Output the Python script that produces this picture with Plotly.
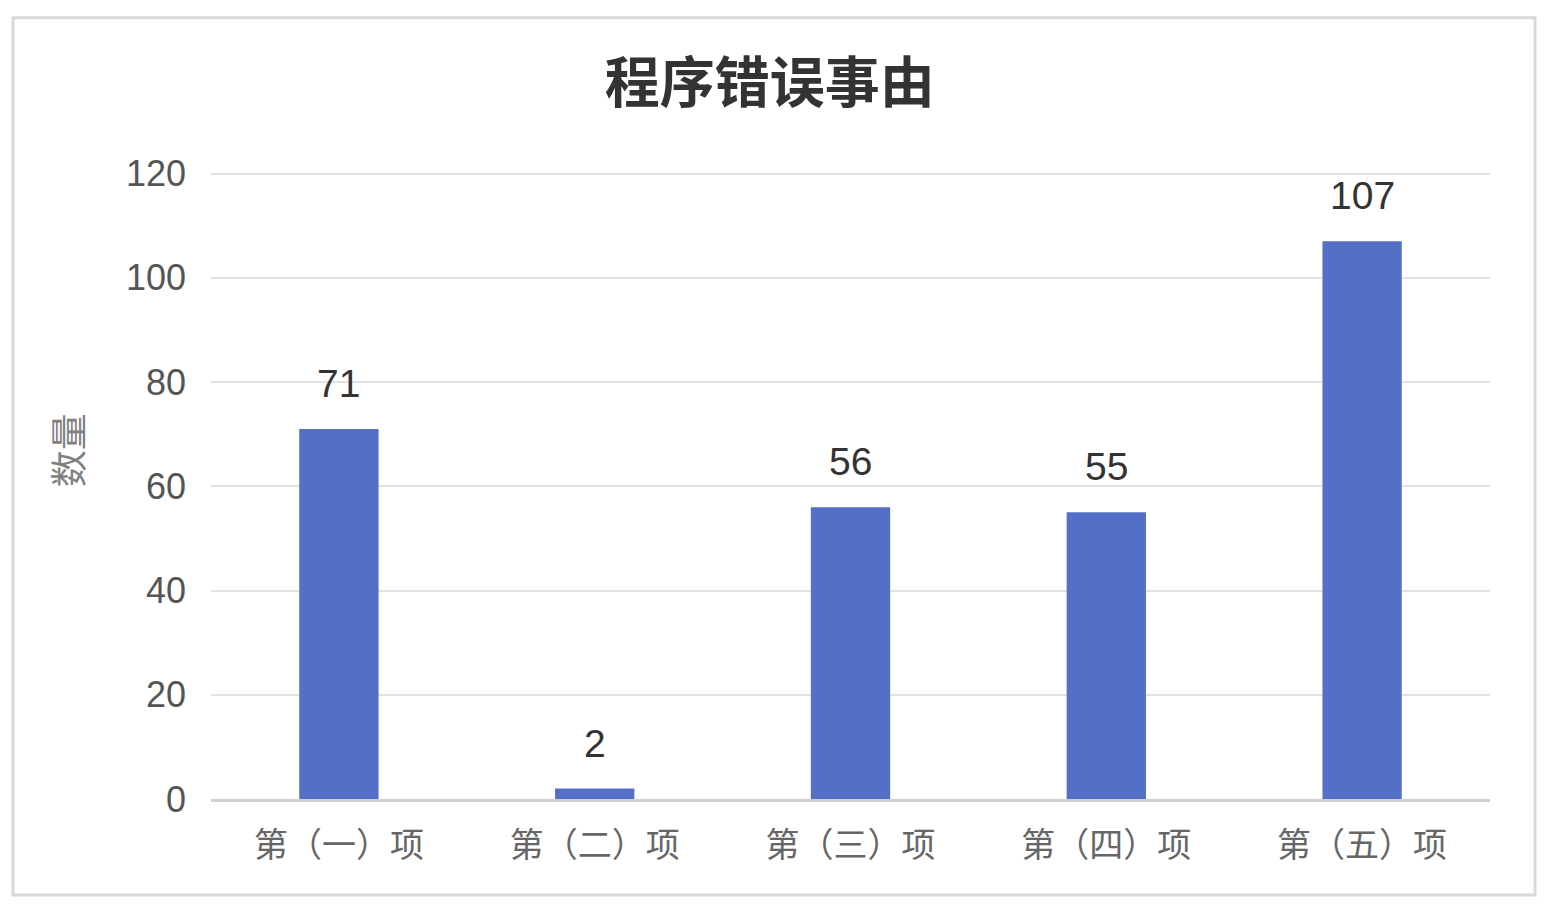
import plotly.graph_objects as go

# chart data
categories = ["第（一）项", "第（二）项", "第（三）项", "第（四）项", "第（五）项"]
counts = [71, 2, 56, 55, 107]
y_ticks = [0, 20, 40, 60, 80, 100, 120]

title_text = "程序错误事由"
y_title = "数量"

BAR_COLOR = "#5470c6"
CJK = "Noto Sans CJK SC"
NUM = "Liberation Sans, Arial, sans-serif"

fig = go.Figure(go.Bar(
    x=categories,
    y=counts,
    marker=dict(color=BAR_COLOR, line=dict(width=0)),
    width=0.31,
    hoverinfo="x+y",
))

# value labels above each bar
for cat, val in zip(categories, counts):
    fig.add_annotation(
        x=cat, y=val, text=str(val), showarrow=False,
        yanchor="bottom", yshift=22,
        font=dict(family=NUM, size=39, color="#333333"),
    )

# y axis title, rotated
fig.add_annotation(
    xref="paper", yref="paper", x=-0.113, y=0.557,
    xanchor="center", yanchor="middle",
    text=y_title, textangle=-90, showarrow=False,
    font=dict(family=CJK, size=37, color="#808080"),
)

# light frame around the whole chart
fig.add_shape(
    type="rect", xref="paper", yref="paper",
    x0=-0.1548, x1=1.0352, y0=-0.153, y1=1.246,
    line=dict(color="#d9d9d9", width=3), fillcolor="rgba(0,0,0,0)",
    layer="below",
)

# page body has an 8px margin, so the figure is sized to fit the window
fig.update_layout(
    width=1542,
    height=906,
    margin=dict(l=203, r=60, t=164, b=115),
    paper_bgcolor="white",
    plot_bgcolor="white",
    showlegend=False,
    title=dict(
        text=title_text, x=0.494, xref="container", xanchor="center",
        y=0.917, yanchor="middle",
        font=dict(family=CJK, size=55, color="#333333", weight="bold"),
    ),
    xaxis=dict(
        showgrid=False,
        showline=True, linecolor="#d0d0d0", linewidth=3,
        ticks="", ticklabelstandoff=14,
        tickfont=dict(family=CJK, size=34, color="#666666"),
    ),
    yaxis=dict(
        range=[0, 120.3], tickvals=y_ticks,
        showgrid=True, gridcolor="#e2e2e2", gridwidth=2,
        zeroline=False, showline=False, ticks="",
        ticklabelstandoff=24,
        tickfont=dict(family=NUM, size=36, color="#555555"),
    ),
)

fig.write_html("out.html")
